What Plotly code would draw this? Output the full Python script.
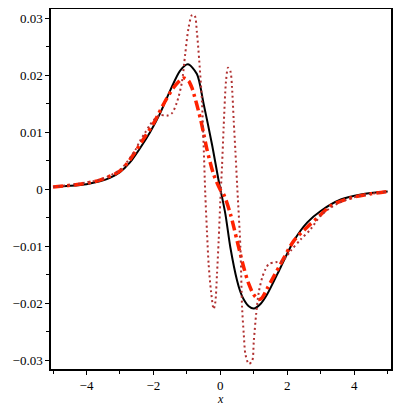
import plotly.graph_objects as go

# black solid curve
x_black = [-5.0, -4.5, -4.0, -3.6, -3.3, -3.0, -2.7, -2.4, -2.1, -1.8, -1.5, -1.2,
           -0.97, -0.7, -0.5, -0.25, -0.05, 0.15, 0.3, 0.5, 0.6, 0.7, 0.85, 1.0,
           1.2, 1.4, 1.8, 2.2, 2.6, 3.0, 3.6, 4.2, 5.0]
y_black = [0.0004, 0.0006, 0.0009, 0.0014, 0.0020, 0.0030, 0.0047, 0.0072, 0.0100,
           0.0133, 0.0173, 0.0208, 0.0219, 0.0202, 0.0150, 0.0079, 0.0015, -0.0043,
           -0.0102, -0.0160, -0.0180, -0.0193, -0.0205, -0.0209, -0.0201, -0.0184,
           -0.0137, -0.0090, -0.0058, -0.0038, -0.0018, -0.0009, -0.0004]

# red dash-dot curve
x_red = [-5.0, -4.2, -3.6, -3.0, -2.7, -2.3, -2.0, -1.7, -1.4, -1.1, -0.95, -0.85,
         -0.6, -0.5, -0.4, -0.2, 0.0, 0.1, 0.3, 0.5, 0.7, 0.85, 1.0, 1.15, 1.25,
         1.4, 1.8, 2.2, 2.6, 2.9, 3.3, 3.9, 4.5, 5.0]
y_red = [0.0004, 0.0009, 0.0016, 0.0032, 0.0052, 0.0088, 0.0115, 0.0149, 0.0178,
         0.0195, 0.0190, 0.0178, 0.0125, 0.0098, 0.0070, 0.0026, -0.0001, -0.0009,
         -0.0043, -0.0090, -0.0137, -0.0166, -0.0185, -0.0193, -0.0190, -0.0174,
         -0.0131, -0.0090, -0.0066, -0.0050, -0.0029, -0.0015, -0.0008, -0.0004]

# brown dotted curve
x_dot = [-5.0, -4.2, -3.6, -3.0, -2.55, -2.4, -2.25, -2.1, -1.95, -1.8, -1.6, -1.45,
         -1.3, -1.15, -1.05, -0.95, -0.85, -0.77, -0.7, -0.63, -0.55, -0.5, -0.45,
         -0.4, -0.35, -0.28, -0.2, -0.15, -0.1, -0.05, 0.0, 0.05, 0.1, 0.17, 0.23,
         0.3, 0.35, 0.4, 0.45, 0.5, 0.6, 0.65, 0.7, 0.75, 0.85, 0.95, 1.0, 1.07,
         1.15, 1.25, 1.35, 1.45, 1.65, 1.85, 2.1, 2.4, 2.7, 3.0, 3.5, 4.0, 4.5, 5.0]
y_dot = [0.0004, 0.0010, 0.0017, 0.0034, 0.0068, 0.0085, 0.0099, 0.0113, 0.0124,
         0.0130, 0.0129, 0.0133, 0.0152, 0.0187, 0.0237, 0.0283, 0.0305, 0.0305,
         0.0275, 0.0225, 0.0155, 0.0079, -0.0008, -0.0073, -0.0131, -0.0178, -0.0210,
         -0.0198, -0.0149, -0.0090, -0.0020, 0.0040, 0.0110, 0.0190, 0.0213, 0.0207,
         0.0178, 0.0120, 0.0067, 0.0010, -0.0102, -0.0207, -0.0254, -0.0289, -0.0306,
         -0.0301, -0.0266, -0.0219, -0.0180, -0.0155, -0.0140, -0.0131, -0.0128,
         -0.0126, -0.0108, -0.0088, -0.0070, -0.0046, -0.0025, -0.0014, -0.0008, -0.0004]

FONT = "Times New Roman"

fig = go.Figure()
fig.add_trace(go.Scatter(x=x_black, y=y_black, mode="lines", line_shape="spline",
                         line=dict(color="black", width=2, smoothing=0.8)))
fig.add_trace(go.Scatter(x=x_red, y=y_red, mode="lines", line_shape="spline",
                         line=dict(color="#ff2200", width=3.5, dash="10px,4px,3px,4px",
                                   smoothing=0.8)))
fig.add_trace(go.Scatter(x=x_dot, y=y_dot, mode="lines", line_shape="spline",
                         line=dict(color="#b03030", width=2, dash="2px,3px", smoothing=0.8)))

axis_common = dict(
    showgrid=False, zeroline=False, showline=True, mirror=True, automargin=False,
    linecolor="black", linewidth=1.5,
    ticks="outside", ticklen=4, tickcolor="black", tickwidth=1,
    tickfont=dict(family=FONT, size=13, color="black"),
)
fig.update_xaxes(range=[-5.06, 5.1], dtick=2, tick0=0,
                 minor=dict(ticks="outside", dtick=1, ticklen=3, tickcolor="black"),
                 **axis_common)
fig.update_yaxes(range=[-0.0315, 0.0316], dtick=0.01, tick0=0,
                 minor=dict(ticks="outside", dtick=0.005, ticklen=3, tickcolor="black"),
                 **axis_common)
fig.add_annotation(text="<i>x</i>", xref="x", yref="paper", x=0, y=-0.084,
                   showarrow=False, yanchor="middle",
                   font=dict(family=FONT, size=12, color="black"))
# page body has an 8px margin, so the figure is drawn 8px smaller
fig.update_layout(
    width=400, height=398,
    margin=dict(l=43, r=17, t=1, b=37),
    paper_bgcolor="white", plot_bgcolor="white",
    showlegend=False,
    font=dict(family=FONT, size=13, color="black"),
)
fig.write_html("out.html")
